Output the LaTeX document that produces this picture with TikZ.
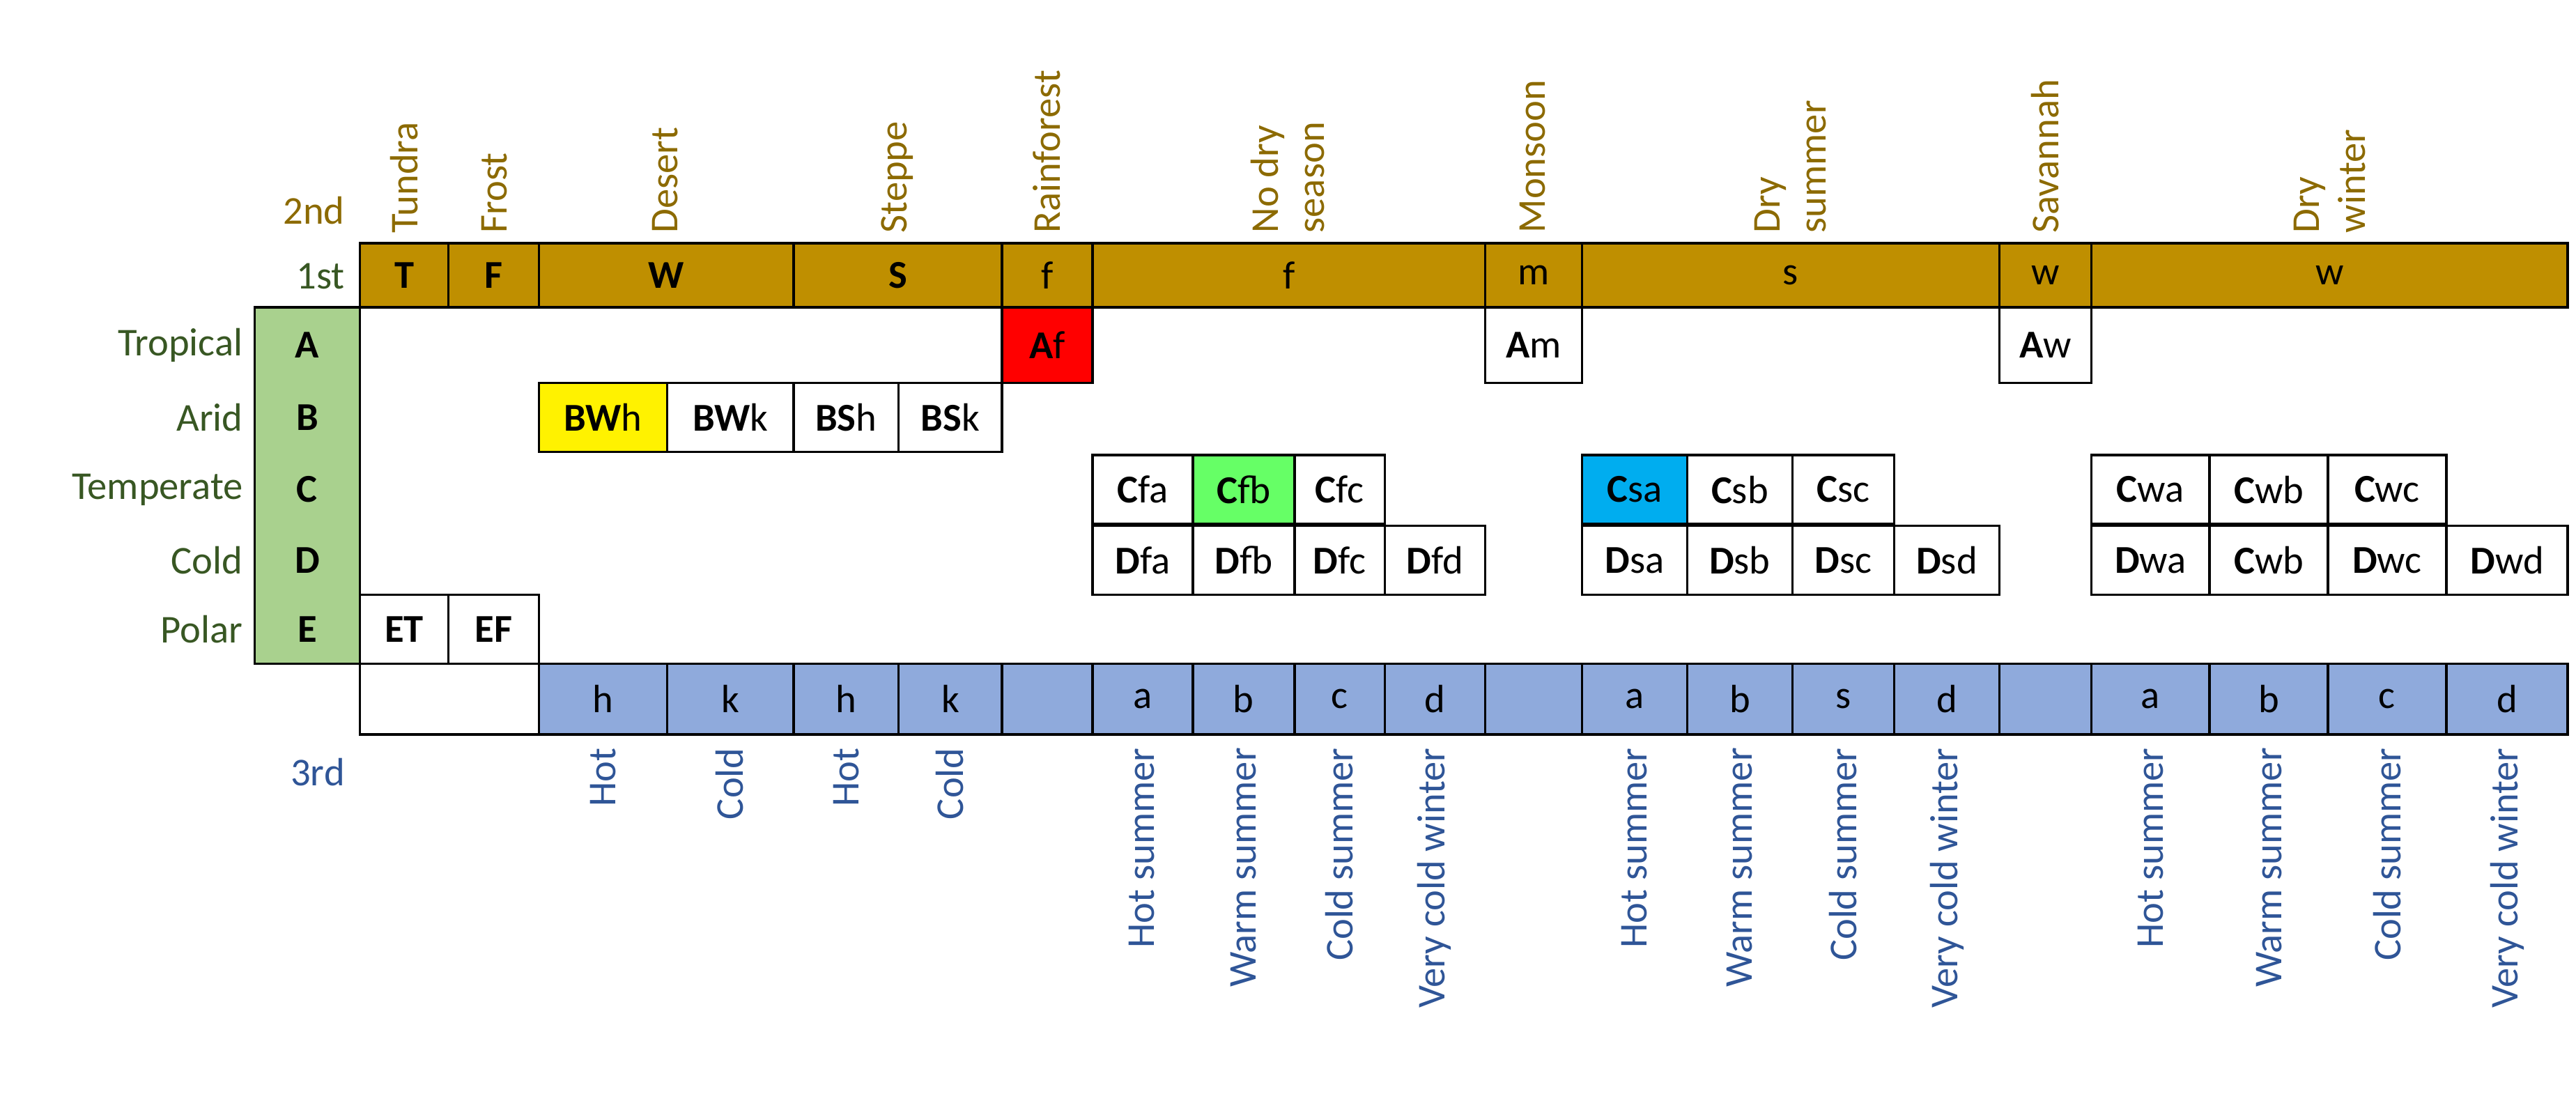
\documentclass[tikz,border=0pt]{standalone}
\usepackage{fontspec}
\setmainfont{Carlito}
\definecolor{brn}{HTML}{BF8F00}
\definecolor{brt}{HTML}{8C6A00}
\definecolor{grn}{HTML}{A9D18E}
\definecolor{grt}{HTML}{385723}
\definecolor{blu}{HTML}{8FAADC}
\definecolor{blt}{HTML}{2F5597}
\tikzset{cbox/.style={draw=black,line width=1.5pt,inner sep=0pt,font=\fontsize{24}{28}\selectfont},
 lab/.style={inner sep=0pt,font=\fontsize{24}{28}\selectfont},
 top/.style={lab,text=brt,rotate=90,anchor=west,align=left},
 bot/.style={lab,text=blt,rotate=90,anchor=east}}
\newcommand\cb[7]{\node[cbox,fill=#6,minimum width={(#3-#2)*1pt},minimum height={(#5-#4)*1pt}] (#1) at ({(#2+#3)/2},{(#4+#5)/2}) {#7};}
\begin{document}
\begin{tikzpicture}[x=1pt,y=-1pt]
\useasboundingbox (0,0) rectangle (1568,670);
% top bar
\cb{t1}{219}{273}{148}{187}{brn}{\textbf{T}}
\cb{t2}{273}{328}{148}{187}{brn}{\textbf{F}}
\cb{t3}{328}{483}{148}{187}{brn}{\textbf{W}}
\cb{t4}{483}{610}{148}{187}{brn}{\textbf{S}}
\cb{t5}{610}{665}{148}{187}{brn}{f}
\cb{t6}{665}{904}{148}{187}{brn}{f}
\cb{t7}{904}{963}{148}{187}{brn}{m}
\cb{t8}{963}{1217}{148}{187}{brn}{s}
\cb{t9}{1217}{1273}{148}{187}{brn}{w}
\cb{t10}{1273}{1563}{148}{187}{brn}{w}
% green column
\node[cbox,fill=grn,minimum width=64pt,minimum height=217pt] (g) at (187,295.5) {};
\foreach \l/\y in {A/210,B/254,C/298,D/341,E/383}{\node[lab] (g\l) at (187,\y) {\textbf{\l}};}
\foreach \t/\y/\n in {Tropical/210/r1,Arid/254/r2,Temperate/298/r3,Cold/341/r4,Polar/383/r5}{\node[lab,text=grt,anchor=east] (\n) at (148,\y) {\t};}
\node[lab,text=grt,anchor=east] (l1) at (210,168) {1st};
\node[lab,text=brt,anchor=east] (l2) at (210,128) {2nd};
\node[lab,text=blt,anchor=east] (l3) at (210,470) {3rd};
% A
\cb{af}{610}{665}{187}{233}{red}{\textbf{A}f}
\cb{am}{904}{963}{187}{233}{white}{\textbf{A}m}
\cb{aw}{1217}{1273}{187}{233}{white}{\textbf{A}w}
% B
\cb{bwh}{328}{406}{233}{275}{yellow}{\textbf{BW}h}
\cb{bwk}{406}{483}{233}{275}{white}{\textbf{BW}k}
\cb{bsh}{483}{547}{233}{275}{white}{\textbf{BS}h}
\cb{bsk}{547}{610}{233}{275}{white}{\textbf{BS}k}
% C/D
\cb{cfa}{665}{726}{277}{319}{white}{\textbf{C}fa}
\cb{cfb}{726}{788}{277}{319}{green!60!white}{\textbf{C}fb}
\cb{cfc}{788}{843}{277}{319}{white}{\textbf{C}fc}
\cb{dfa}{665}{726}{320}{362}{white}{\textbf{D}fa}
\cb{dfb}{726}{788}{320}{362}{white}{\textbf{D}fb}
\cb{dfc}{788}{843}{320}{362}{white}{\textbf{D}fc}
\cb{dfd}{843}{904}{320}{362}{white}{\textbf{D}fd}
\cb{csa}{963}{1027}{277}{319}{cyan}{\textbf{C}sa}
\cb{csb}{1027}{1091}{277}{319}{white}{\textbf{C}sb}
\cb{csc}{1091}{1153}{277}{319}{white}{\textbf{C}sc}
\cb{dsa}{963}{1027}{320}{362}{white}{\textbf{D}sa}
\cb{dsb}{1027}{1091}{320}{362}{white}{\textbf{D}sb}
\cb{dsc}{1091}{1153}{320}{362}{white}{\textbf{D}sc}
\cb{dsd}{1153}{1217}{320}{362}{white}{\textbf{D}sd}
\cb{cwa}{1273}{1345}{277}{319}{white}{\textbf{C}wa}
\cb{cwb}{1345}{1417}{277}{319}{white}{\textbf{C}wb}
\cb{cwc}{1417}{1489}{277}{319}{white}{\textbf{C}wc}
\cb{dwa}{1273}{1345}{320}{362}{white}{\textbf{D}wa}
\cb{dwb}{1345}{1417}{320}{362}{white}{\textbf{C}wb}
\cb{dwc}{1417}{1489}{320}{362}{white}{\textbf{D}wc}
\cb{dwd}{1489}{1563}{320}{362}{white}{\textbf{D}wd}
\cb{et}{219}{273}{362}{404}{white}{\textbf{ET}}
\cb{ef}{273}{328}{362}{404}{white}{\textbf{EF}}
% bottom bar
\cb{b0}{219}{328}{404}{447}{white}{}
\cb{b1}{328}{406}{404}{447}{blu}{h}
\cb{b2}{406}{483}{404}{447}{blu}{k}
\cb{b3}{483}{547}{404}{447}{blu}{h}
\cb{b4}{547}{610}{404}{447}{blu}{k}
\cb{b5}{610}{665}{404}{447}{blu}{}
\cb{b6}{665}{726}{404}{447}{blu}{a}
\cb{b7}{726}{788}{404}{447}{blu}{b}
\cb{b8}{788}{843}{404}{447}{blu}{c}
\cb{b9}{843}{904}{404}{447}{blu}{d}
\cb{b10}{904}{963}{404}{447}{blu}{}
\cb{b11}{963}{1027}{404}{447}{blu}{a}
\cb{b12}{1027}{1091}{404}{447}{blu}{b}
\cb{b13}{1091}{1153}{404}{447}{blu}{s}
\cb{b14}{1153}{1217}{404}{447}{blu}{d}
\cb{b15}{1217}{1273}{404}{447}{blu}{}
\cb{b16}{1273}{1345}{404}{447}{blu}{a}
\cb{b17}{1345}{1417}{404}{447}{blu}{b}
\cb{b18}{1417}{1489}{404}{447}{blu}{c}
\cb{b19}{1489}{1563}{404}{447}{blu}{d}
% 2nd labels
\node[top] (n1) at (246,142) {Tundra};
\node[top] (n2) at (301,142) {Frost};
\node[top] (n3) at (405,142) {Desert};
\node[top] (n4) at (546,142) {Steppe};
\node[top] (n5) at (637,142) {Rainforest};
\node[top] (n6) at (784,142) {No dry\\season};
\node[top] (n7) at (933,142) {Monsoon};
\node[top] (n8) at (1090,142) {Dry\\summer};
\node[top] (n9) at (1245,142) {Savannah};
\node[top] (n10) at (1418,142) {Dry\\winter};
% 3rd labels
\foreach \x/\t/\n in {367/Hot/c1,444/Cold/c2,515/Hot/c3,578/Cold/c4,695/Hot summer/c5,757/Warm summer/c6,815/Cold summer/c7,873/Very cold winter/c8,995/Hot summer/c9,1059/Warm summer/c10,1122/Cold summer/c11,1185/Very cold winter/c12,1309/Hot summer/c13,1381/Warm summer/c14,1453/Cold summer/c15,1526/Very cold winter/c16}{\node[bot] (\n) at (\x,455) {\t};}
\end{tikzpicture}
\end{document}
